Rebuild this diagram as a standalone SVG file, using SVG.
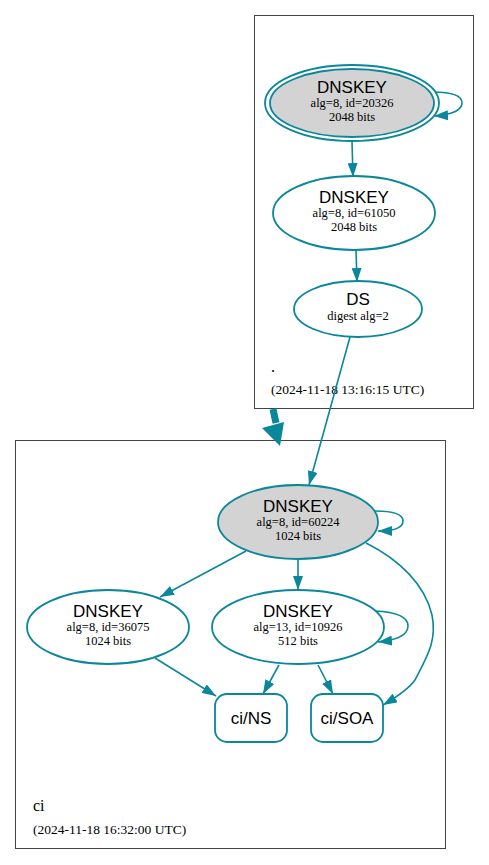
<svg xmlns="http://www.w3.org/2000/svg" width="489" height="865" viewBox="0 0 489 865">
<defs>
<marker id="ah" viewBox="0 0 14 10" refX="14" refY="5" markerWidth="14" markerHeight="10" markerUnits="userSpaceOnUse" orient="auto"><path d="M0,0 L14,5 L0,10 z" fill="#0a879a"/></marker>
<style>
.cl{fill:#fff;stroke:#444;stroke-width:1}
.n{stroke:#0a879a;stroke-width:1.8;fill:#fff}
.g{fill:#d3d3d3}
.e{stroke:#0a879a;stroke-width:1.6;fill:none;marker-end:url(#ah)}
.h{font-family:"Liberation Sans",Arial,sans-serif;font-size:17px;text-anchor:middle;fill:#000}
.s{font-family:"Liberation Serif","Times New Roman",serif;font-size:12.5px;text-anchor:middle;fill:#000}
.l{font-family:"Liberation Serif","Times New Roman",serif;font-size:13.5px;fill:#000}
.c{font-family:"Liberation Serif","Times New Roman",serif;font-size:16px;fill:#000}
</style>
</defs>
<rect width="489" height="865" fill="#fff"/>
<g id="cluster_root">
<rect class="cl" x="254.5" y="15.5" width="219" height="393"/>
<text class="c" x="271" y="372">.</text>
<text class="l" x="271" y="394">(2024-11-18 13:16:15 UTC)</text>
</g>
<g id="cluster_ci">
<rect class="cl" x="15.5" y="440.5" width="430" height="408"/>
<text class="c" x="33" y="811">ci</text>
<text class="l" x="33" y="834">(2024-11-18 16:32:00 UTC)</text>
</g>
<g id="edges">
<path class="e" d="M433,92 C452,92 462,96 462,103 C462,110 452,115 434,116"/>
<path class="e" d="M352,142 L353,177"/>
<path class="e" d="M356,250 L357,282"/>
<path class="e" d="M350,337 L309,485"/>
<path d="M273,409 L276,423" stroke="#0a879a" stroke-width="7" fill="none"/>
<path d="M262,428 L284,422 L280,446 z" fill="#0a879a"/>
<path class="e" d="M375,511 C395,511 403,515 403,521 C403,528 395,531 378,531"/>
<path class="e" d="M246,551 L160,597"/>
<path class="e" d="M298,559 L298,590"/>
<path class="e" d="M366,543 C400,560 425,585 432,615 C437,640 428,655 415,680 C408,690 395,698 383,705"/>
<path class="e" d="M375,611 C398,612 408,618 408,626 C408,635 398,640 378,642"/>
<path class="e" d="M155,658 L216,696"/>
<path class="e" d="M279,665 L263,694"/>
<path class="e" d="M318,665 L333,694"/>
</g>
<g id="dnskey_20326">
<ellipse class="n" cx="352" cy="103" rx="87" ry="38"/>
<ellipse class="n g" cx="352" cy="103" rx="82" ry="34"/>
<text class="h" x="352" y="93">DNSKEY</text>
<text class="s" x="352" y="107">alg=8, id=20326</text>
<text class="s" x="352" y="121">2048 bits</text>
</g>
<g id="dnskey_61050">
<ellipse class="n" cx="354" cy="213" rx="81" ry="37"/>
<text class="h" x="354" y="203">DNSKEY</text>
<text class="s" x="354" y="217">alg=8, id=61050</text>
<text class="s" x="354" y="231">2048 bits</text>
</g>
<g id="ds">
<ellipse class="n" cx="358" cy="309" rx="64" ry="28"/>
<text class="h" x="358" y="305">DS</text>
<text class="s" x="358" y="320">digest alg=2</text>
</g>
<g id="dnskey_60224">
<ellipse class="n g" cx="298" cy="522" rx="80" ry="37"/>
<text class="h" x="298" y="512">DNSKEY</text>
<text class="s" x="298" y="526">alg=8, id=60224</text>
<text class="s" x="298" y="540">1024 bits</text>
</g>
<g id="dnskey_36075">
<ellipse class="n" cx="108" cy="627" rx="81" ry="37"/>
<text class="h" x="108" y="617">DNSKEY</text>
<text class="s" x="108" y="631">alg=8, id=36075</text>
<text class="s" x="108" y="645">1024 bits</text>
</g>
<g id="dnskey_10926">
<ellipse class="n" cx="298" cy="627" rx="86" ry="37"/>
<text class="h" x="298" y="617">DNSKEY</text>
<text class="s" x="298" y="631">alg=13, id=10926</text>
<text class="s" x="298" y="645">512 bits</text>
</g>
<g id="ci_ns">
<rect class="n" x="215" y="694" width="72" height="48" rx="12"/>
<text class="h" x="251" y="724">ci/NS</text>
</g>
<g id="ci_soa">
<rect class="n" x="311" y="694" width="72" height="48" rx="12"/>
<text class="h" x="347" y="724">ci/SOA</text>
</g>
</svg>
